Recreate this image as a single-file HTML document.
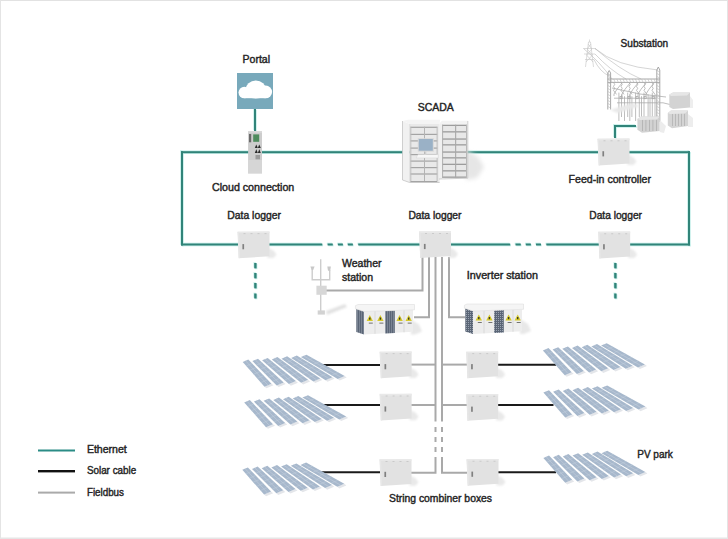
<!DOCTYPE html>
<html><head><meta charset="utf-8">
<style>html,body{margin:0;padding:0;background:#fff;}body{width:728px;height:539px;overflow:hidden;position:relative;}svg{position:absolute;left:0;top:0;display:block;}text{font-family:"Liberation Sans",sans-serif;font-size:10px;fill:#242424;stroke:#242424;stroke-width:0.4px;}</style></head><body>
<svg width="728" height="539" viewBox="0 0 728 539">
<defs><filter id="bl" x="-50%" y="-50%" width="200%" height="200%"><feGaussianBlur stdDeviation="1.3"/></filter><filter id="bl2" x="-50%" y="-50%" width="200%" height="200%"><feGaussianBlur stdDeviation="2.2"/></filter><pattern id="vent" width="2" height="2" patternUnits="userSpaceOnUse"><rect width="2" height="2" fill="#5a6576"/><rect x="0" y="0" width="1" height="1" fill="#9aa3b0"/></pattern></defs>
<rect x="0" y="0" width="728" height="1" fill="#e2e2e2"/><rect x="0" y="0" width="1" height="539" fill="#e4e4e4"/><rect x="727" y="0" width="1" height="539" fill="#e4e4e4"/><rect x="0" y="537.5" width="728" height="1.5" fill="#e6e6e6"/>
<g fill="#c8efea" transform="translate(0,0)"><g transform="translate(-0.8,-0.8)"><rect x="181.0" y="151.2" width="509.0" height="2.0"/><rect x="181.0" y="151.2" width="2.0" height="94.3"/><rect x="688.0" y="151.2" width="2.0" height="94.3"/><rect x="181.0" y="243.5" width="141.3" height="2.0"/><rect x="327.6" y="243.5" width="5.2" height="2.0"/><rect x="337.9" y="243.5" width="5.0" height="2.0"/><rect x="347.8" y="243.5" width="5.1" height="2.0"/><rect x="358.2" y="243.5" width="152.0" height="2.0"/><rect x="515.5" y="243.5" width="5.3" height="2.0"/><rect x="525.8" y="243.5" width="5.1" height="2.0"/><rect x="536.0" y="243.5" width="5.0" height="2.0"/><rect x="546.3" y="243.5" width="143.7" height="2.0"/><rect x="254.0" y="109.0" width="2.0" height="22.0"/><rect x="614.0" y="125.0" width="22.0" height="2.0"/><rect x="614.0" y="125.0" width="2.0" height="13.0"/><rect x="254.2" y="263.0" width="2.4" height="5.4"/><rect x="254.2" y="273.0" width="2.4" height="5.4"/><rect x="254.2" y="283.0" width="2.4" height="5.4"/><rect x="254.2" y="293.5" width="2.4" height="5.0"/><rect x="614.2" y="263.0" width="2.4" height="5.4"/><rect x="614.2" y="273.0" width="2.4" height="5.4"/><rect x="614.2" y="283.0" width="2.4" height="5.4"/><rect x="614.2" y="293.5" width="2.4" height="5.0"/></g><g transform="translate(0.8,0.8)"><rect x="181.0" y="151.2" width="509.0" height="2.0"/><rect x="181.0" y="151.2" width="2.0" height="94.3"/><rect x="688.0" y="151.2" width="2.0" height="94.3"/><rect x="181.0" y="243.5" width="141.3" height="2.0"/><rect x="327.6" y="243.5" width="5.2" height="2.0"/><rect x="337.9" y="243.5" width="5.0" height="2.0"/><rect x="347.8" y="243.5" width="5.1" height="2.0"/><rect x="358.2" y="243.5" width="152.0" height="2.0"/><rect x="515.5" y="243.5" width="5.3" height="2.0"/><rect x="525.8" y="243.5" width="5.1" height="2.0"/><rect x="536.0" y="243.5" width="5.0" height="2.0"/><rect x="546.3" y="243.5" width="143.7" height="2.0"/><rect x="254.0" y="109.0" width="2.0" height="22.0"/><rect x="614.0" y="125.0" width="22.0" height="2.0"/><rect x="614.0" y="125.0" width="2.0" height="13.0"/><rect x="254.2" y="263.0" width="2.4" height="5.4"/><rect x="254.2" y="273.0" width="2.4" height="5.4"/><rect x="254.2" y="283.0" width="2.4" height="5.4"/><rect x="254.2" y="293.5" width="2.4" height="5.0"/><rect x="614.2" y="263.0" width="2.4" height="5.4"/><rect x="614.2" y="273.0" width="2.4" height="5.4"/><rect x="614.2" y="283.0" width="2.4" height="5.4"/><rect x="614.2" y="293.5" width="2.4" height="5.0"/></g></g>
<g fill="#318479"><rect x="181.0" y="151.2" width="509.0" height="2.0"/><rect x="181.0" y="151.2" width="2.0" height="94.3"/><rect x="688.0" y="151.2" width="2.0" height="94.3"/><rect x="181.0" y="243.5" width="141.3" height="2.0"/><rect x="327.6" y="243.5" width="5.2" height="2.0"/><rect x="337.9" y="243.5" width="5.0" height="2.0"/><rect x="347.8" y="243.5" width="5.1" height="2.0"/><rect x="358.2" y="243.5" width="152.0" height="2.0"/><rect x="515.5" y="243.5" width="5.3" height="2.0"/><rect x="525.8" y="243.5" width="5.1" height="2.0"/><rect x="536.0" y="243.5" width="5.0" height="2.0"/><rect x="546.3" y="243.5" width="143.7" height="2.0"/><rect x="254.0" y="109.0" width="2.0" height="22.0"/><rect x="614.0" y="125.0" width="22.0" height="2.0"/><rect x="614.0" y="125.0" width="2.0" height="13.0"/><rect x="254.2" y="263.0" width="2.4" height="5.4"/><rect x="254.2" y="273.0" width="2.4" height="5.4"/><rect x="254.2" y="283.0" width="2.4" height="5.4"/><rect x="254.2" y="293.5" width="2.4" height="5.0"/><rect x="614.2" y="263.0" width="2.4" height="5.4"/><rect x="614.2" y="273.0" width="2.4" height="5.4"/><rect x="614.2" y="283.0" width="2.4" height="5.4"/><rect x="614.2" y="293.5" width="2.4" height="5.0"/></g>
<g fill="none" stroke="#a9a9a9" stroke-width="2">
<polyline points="422.5,257 422.5,290.5 326,290.5"/>
<polyline points="429,257 429,317.2 414,317.2"/>
<polyline points="449,257 449,317.2 465,317.2"/>
<line x1="435.5" y1="257" x2="435.5" y2="421.5"/>
<line x1="442" y1="257" x2="442" y2="421.5"/>
<line x1="435.5" y1="427" x2="435.5" y2="432"/><line x1="435.5" y1="437" x2="435.5" y2="442"/><line x1="435.5" y1="447" x2="435.5" y2="452"/>
<line x1="442" y1="427" x2="442" y2="432"/><line x1="442" y1="437" x2="442" y2="442"/><line x1="442" y1="447" x2="442" y2="452"/>
<polyline points="435.5,457 435.5,472.7 411,472.7"/>
<polyline points="442,457 442,472.7 467,472.7"/>
<line x1="411" y1="364.6" x2="435.5" y2="364.6"/><line x1="411" y1="405" x2="435.5" y2="405"/>
<line x1="442" y1="364.6" x2="467" y2="364.6"/><line x1="442" y1="405" x2="467" y2="405"/>
</g>
<g fill="none" stroke="#1a1a1a" stroke-width="2">
<line x1="322" y1="364.9" x2="380" y2="364.9"/>
<line x1="323" y1="404.9" x2="380" y2="404.9"/>
<line x1="320" y1="472.3" x2="380" y2="472.3"/>
<line x1="497" y1="364.8" x2="556" y2="364.8"/>
<line x1="497" y1="404.9" x2="553.5" y2="404.9"/>
<line x1="497" y1="472.3" x2="556" y2="472.3"/>
</g>
<rect x="38" y="449.5" width="37" height="2" fill="#2b8c86"/><rect x="38" y="470" width="37" height="2.4" fill="#111"/><rect x="38" y="491.6" width="37" height="2" fill="#aaaaaa"/>
<rect x="237" y="73" width="36" height="36" fill="#78a9bb"/>
<clipPath id="cc"><rect x="230" y="70" width="50" height="28.4"/></clipPath><g fill="#fff" clip-path="url(#cc)"><circle cx="244.3" cy="92.6" r="5.8"/><ellipse cx="255.8" cy="89.8" rx="10.3" ry="9.2"/><circle cx="265.6" cy="92" r="6.5"/><rect x="244.3" y="90" width="21.3" height="8.4"/></g>
<rect x="248.1" y="131.2" width="13.9" height="42.2" fill="#cdcdcd"/><rect x="248.1" y="131.2" width="13.9" height="1.5" fill="#dadada"/><rect x="248.1" y="160" width="13.9" height="13.4" fill="#d6d6d6"/>
<rect x="253.2" y="134.4" width="6" height="7.4" fill="#4f8c5e"/><rect x="249" y="134" width="2.2" height="8.3" fill="#6a6a6a"/>
<polygon points="254.8,147.9 256.3,144.6 257.8,147.9" fill="#2a2a2a"/><polygon points="257.8,147.9 259.3,144.6 260.8,147.9" fill="#2a2a2a"/><polygon points="254.8,153 256.3,149.3 257.8,153" fill="#2a2a2a"/><polygon points="257.8,153 259.3,149.3 260.8,153" fill="#2a2a2a"/><rect x="255.5" y="155" width="4.5" height="4.3" fill="#9a9a9a"/>
<polygon points="466,150 478,157 484,167 477,178 466,180" fill="#e6e6e6" filter="url(#bl2)"/><polygon points="402.5,121 409.7,124 409.7,182.5 402.5,180" fill="#f1f1f1"/><polygon points="402.5,121 408,119.8 440,119.8 439.6,124 409.7,124" fill="#f4f4f4"/><rect x="409.7" y="124" width="29.9" height="58.5" fill="#e9e9e9"/><rect x="410.3" y="126.7" width="27" height="1.2" fill="#a4a4a4"/><rect x="410.3" y="133.8" width="27" height="1.2" fill="#a4a4a4"/><rect x="410.3" y="140.3" width="27" height="1.2" fill="#a4a4a4"/><rect x="410.3" y="147.5" width="27" height="1.2" fill="#a4a4a4"/><rect x="410.3" y="154.0" width="27" height="1.2" fill="#a4a4a4"/><rect x="410.3" y="160.5" width="27" height="1.2" fill="#a4a4a4"/><rect x="410.3" y="167.0" width="27" height="1.2" fill="#a4a4a4"/><rect x="410.3" y="173.4" width="27" height="1.2" fill="#a4a4a4"/><rect x="410.3" y="181.0" width="27" height="1.2" fill="#a4a4a4"/><rect x="424" y="126.7" width="1" height="54.3" fill="#b4b4b4"/><rect x="410.3" y="126.7" width="1" height="54.3" fill="#bcbcbc"/><rect x="436.6" y="126.7" width="1" height="54.3" fill="#bcbcbc"/><polygon points="438.9,124 442,120.8 468,120.8 467.5,124.7" fill="#f3f3f3"/><rect x="438.9" y="124" width="3.2" height="55" fill="#f0f0f0"/><rect x="442.1" y="124.7" width="25.4" height="53.5" fill="#e8e8e8"/><rect x="442.1" y="124.7" width="24.7" height="1.3" fill="#9c9c9c"/><rect x="442.1" y="131.2" width="24.7" height="1.3" fill="#9c9c9c"/><rect x="442.1" y="138.4" width="24.7" height="1.3" fill="#9c9c9c"/><rect x="442.1" y="144.2" width="24.7" height="1.3" fill="#9c9c9c"/><rect x="442.1" y="151.4" width="24.7" height="1.3" fill="#9c9c9c"/><rect x="442.1" y="157.2" width="24.7" height="1.3" fill="#9c9c9c"/><rect x="442.1" y="163.7" width="24.7" height="1.3" fill="#9c9c9c"/><rect x="442.1" y="170.2" width="24.7" height="1.3" fill="#9c9c9c"/><rect x="442.1" y="176.5" width="24.7" height="1.3" fill="#9c9c9c"/><rect x="455.1" y="124.7" width="1.1" height="52.5" fill="#a8a8a8"/><rect x="442.1" y="124.7" width="1" height="52.5" fill="#b0b0b0"/><rect x="466" y="124.7" width="1" height="52.5" fill="#b8b8b8"/><rect x="417.8" y="138.2" width="16" height="13.5" fill="#d8d8d8"/><rect x="418.8" y="139" width="14" height="11.7" fill="#9ab1c6"/><rect x="424.8" y="151.5" width="1.5" height="3" fill="#d0d0d0"/><polygon points="418,154.4 438.3,154.4 438.3,157.9 416.2,157.9" fill="#f7f7f7" stroke="#d0d0d0" stroke-width="0.4"/><polyline points="402.5,121 402.5,180 409.7,182.5 439.6,182.5" fill="none" stroke="#c4c4c4" stroke-width="0.8"/><polyline points="438.9,179 467.8,178.2 467.8,121" fill="none" stroke="#c4c4c4" stroke-width="0.8"/><line x1="409.7" y1="124" x2="409.7" y2="182.5" stroke="#d4d4d4" stroke-width="0.6"/>
<g stroke="#c4c4c4" stroke-width="0.6" fill="none"><polyline points="585.5,67 588.5,42 590.5,42 593.5,67"/><polyline points="586,62 592.5,55 587,49 591,44"/><polyline points="593,62 586.5,55 592,49 588,44"/><line x1="583.5" y1="48.5" x2="595.5" y2="48.5"/><line x1="584" y1="54" x2="595" y2="54"/><line x1="585" y1="59.5" x2="594" y2="59.5"/><line x1="589.5" y1="39.5" x2="589.5" y2="42"/></g><g stroke="#b8b8b8" stroke-width="0.6" fill="none"><path d="M595,48.5 Q615,66 658,70"/><path d="M595,48.5 Q620,70 641,79"/><path d="M595,54 Q610,70 626,79"/><path d="M594,59.5 Q600,72 609.3,76"/><path d="M583.5,48.5 Q600,62 612,79"/></g><g stroke="#9e9e9e" stroke-width="0.9" fill="none"><line x1="607.8" y1="73" x2="607.8" y2="109.5"/><line x1="610.6" y1="73" x2="610.6" y2="109.5"/><line x1="656.8" y1="70" x2="656.8" y2="122"/><line x1="659.8" y1="70" x2="659.8" y2="122"/><line x1="607.8" y1="79" x2="659.8" y2="79"/><line x1="607.8" y1="82.4" x2="659.8" y2="82.4"/><polyline points="607.8,73 609.2,70.5 610.6,73"/><polyline points="656.8,70 658.3,67 659.8,70"/></g><g stroke="#b4b4b4" stroke-width="0.55" fill="none"><line x1="610.6" y1="79" x2="612.1" y2="82.4"/><line x1="613.7" y1="79" x2="615.2" y2="82.4"/><line x1="616.8" y1="79" x2="618.4" y2="82.4"/><line x1="619.9" y1="79" x2="621.4" y2="82.4"/><line x1="623.0" y1="79" x2="624.5" y2="82.4"/><line x1="626.1" y1="79" x2="627.6" y2="82.4"/><line x1="629.2" y1="79" x2="630.8" y2="82.4"/><line x1="632.3" y1="79" x2="633.9" y2="82.4"/><line x1="635.4" y1="79" x2="636.9" y2="82.4"/><line x1="638.5" y1="79" x2="640.0" y2="82.4"/><line x1="641.6" y1="79" x2="643.1" y2="82.4"/><line x1="644.7" y1="79" x2="646.2" y2="82.4"/><line x1="647.8" y1="79" x2="649.4" y2="82.4"/><line x1="650.9" y1="79" x2="652.4" y2="82.4"/><line x1="654.0" y1="79" x2="655.5" y2="82.4"/><line x1="607.8" y1="73.5" x2="610.6" y2="75.0"/><line x1="607.8" y1="76.5" x2="610.6" y2="78.0"/><line x1="607.8" y1="79.5" x2="610.6" y2="81.0"/><line x1="607.8" y1="82.5" x2="610.6" y2="84.0"/><line x1="607.8" y1="85.5" x2="610.6" y2="87.0"/><line x1="607.8" y1="88.5" x2="610.6" y2="90.0"/><line x1="607.8" y1="91.5" x2="610.6" y2="93.0"/><line x1="607.8" y1="94.5" x2="610.6" y2="96.0"/><line x1="607.8" y1="97.5" x2="610.6" y2="99.0"/><line x1="607.8" y1="100.5" x2="610.6" y2="102.0"/><line x1="607.8" y1="103.5" x2="610.6" y2="105.0"/><line x1="607.8" y1="106.5" x2="610.6" y2="108.0"/><line x1="656.8" y1="70.5" x2="659.8" y2="72.0"/><line x1="656.8" y1="73.5" x2="659.8" y2="75.0"/><line x1="656.8" y1="76.5" x2="659.8" y2="78.0"/><line x1="656.8" y1="79.5" x2="659.8" y2="81.0"/><line x1="656.8" y1="82.5" x2="659.8" y2="84.0"/><line x1="656.8" y1="85.5" x2="659.8" y2="87.0"/><line x1="656.8" y1="88.5" x2="659.8" y2="90.0"/><line x1="656.8" y1="91.5" x2="659.8" y2="93.0"/><line x1="656.8" y1="94.5" x2="659.8" y2="96.0"/><line x1="656.8" y1="97.5" x2="659.8" y2="99.0"/><line x1="656.8" y1="100.5" x2="659.8" y2="102.0"/><line x1="656.8" y1="103.5" x2="659.8" y2="105.0"/><line x1="656.8" y1="106.5" x2="659.8" y2="108.0"/><line x1="656.8" y1="109.5" x2="659.8" y2="111.0"/><line x1="656.8" y1="112.5" x2="659.8" y2="114.0"/><line x1="656.8" y1="115.5" x2="659.8" y2="117.0"/><line x1="656.8" y1="118.5" x2="659.8" y2="120.0"/></g><g stroke="#a8a8a8" stroke-width="0.75" fill="none"><path d="M622.0,83 Q616.0,90 614.0,94 L614.0,96"/><path d="M630.0,83 Q624.0,90 622.0,94 L622.0,96"/><path d="M638.0,83 Q632.0,90 630.0,94 L630.0,96"/><path d="M646.0,83 Q640.0,90 638.0,94 L638.0,96"/><path d="M654.0,83 Q648.0,90 646.0,94 L646.0,96"/><path d="M613.5,82.4 l1.2,2 l-1.2,2 l1.2,2 l-1.2,2 l3,4"/><path d="M621.0,82.4 l1.2,2 l-1.2,2 l1.2,2 l-1.2,2 l3,4"/><path d="M629.0,82.4 l1.2,2 l-1.2,2 l1.2,2 l-1.2,2 l3,4"/><path d="M636.5,82.4 l1.2,2 l-1.2,2 l1.2,2 l-1.2,2 l3,4"/><path d="M644.0,82.4 l1.2,2 l-1.2,2 l1.2,2 l-1.2,2 l3,4"/><path d="M652.0,82.4 l1.2,2 l-1.2,2 l1.2,2 l-1.2,2 l3,4"/><line x1="618.9" y1="92.6" x2="618.9" y2="121.0"/><line x1="621.5" y1="94.4" x2="621.5" y2="117.0"/><line x1="624.5" y1="96.2" x2="624.5" y2="121.0"/><line x1="627.7" y1="92.6" x2="627.7" y2="117.0"/><line x1="629.8" y1="94.4" x2="629.8" y2="121.0"/><line x1="631.9" y1="96.2" x2="631.9" y2="117.0"/><line x1="635.6" y1="92.6" x2="635.6" y2="121.0"/><line x1="639.3" y1="94.4" x2="639.3" y2="117.0"/><line x1="641.5" y1="96.2" x2="641.5" y2="121.0"/><line x1="644.0" y1="92.6" x2="644.0" y2="117.0"/><line x1="648.1" y1="94.4" x2="648.1" y2="121.0"/><line x1="650.0" y1="96.2" x2="650.0" y2="117.0"/><line x1="652.3" y1="92.6" x2="652.3" y2="121.0"/><line x1="655.0" y1="94.4" x2="655.0" y2="117.0"/><path d="M614,98.2 H656"/><path d="M617,102.8 H663 L672,105"/><path d="M612,88 L640,94 L666,97"/><rect x="620.0" y="96.5" width="2.2" height="2.2"/><rect x="628.0" y="96.5" width="2.2" height="2.2"/><rect x="636.0" y="96.5" width="2.2" height="2.2"/><rect x="644.0" y="96.5" width="2.2" height="2.2"/><rect x="652.0" y="96.5" width="2.2" height="2.2"/></g><polygon points="610,110 632,103 640,106 618,113" fill="#e8e8e8" filter="url(#bl)"/><polygon points="669.3,94.5 673,92.6 690,92.6 690,107.5 673,109 669.3,107" fill="#d3d3d3"/><polygon points="669.3,94.5 673,92.6 690,92.6 687,95.5 671,96" fill="#e6e6e6"/><polygon points="690,96 693,100 693,108 690,108" fill="#eeeeee"/><polygon points="667.8,113 671,110.4 688,110.4 688,126 672,128.2 667.8,125.5" fill="#d4d4d4"/><polygon points="688,114 693,118 693,127 688,127" fill="#ededed"/><polygon points="637.4,119 641,116.4 659.7,116.4 659.7,131 642,132.8 637.4,129.8" fill="#d2d2d2"/><polygon points="659.7,120 666,126 664,133 659.7,132" fill="#ececec"/><rect x="672.0" y="113.5" width="0.8" height="12.5" fill="#b2b2b2"/><rect x="675.0" y="113.5" width="0.8" height="12.5" fill="#b2b2b2"/><rect x="678.0" y="113.5" width="0.8" height="12.5" fill="#b2b2b2"/><rect x="681.0" y="113.5" width="0.8" height="12.5" fill="#b2b2b2"/><rect x="684.0" y="113.5" width="0.8" height="12.5" fill="#b2b2b2"/><rect x="642.0" y="119.5" width="0.8" height="11.5" fill="#b0b0b0"/><rect x="645.5" y="119.5" width="0.8" height="11.5" fill="#b0b0b0"/><rect x="649.0" y="119.5" width="0.8" height="11.5" fill="#b0b0b0"/><rect x="652.5" y="119.5" width="0.8" height="11.5" fill="#b0b0b0"/><rect x="656.0" y="119.5" width="0.8" height="11.5" fill="#b0b0b0"/><polygon points="637.4,119 641,116.4 659.7,116.4 657,119.5 640,120" fill="#e6e6e6"/><polygon points="667.8,113 671,110.4 688,110.4 685,113.5 670,114" fill="#e6e6e6"/>
<g transform="translate(237.5,231.5)">
<polygon points="30,16 36,19 39,23 36,26.5 30,26.5" fill="#e9e9e9" filter="url(#bl)"/>
<polygon points="0,0.4 32,0 32,24.8 1.2,26.8" fill="#e2e2e2"/>
<polygon points="0,0 32,0 32,1.6 0.2,1.6" fill="#e9e9e9"/>
<polygon points="0.3,1 1.6,1 2.6,26.6 1.2,26.8" fill="#e7e7e7"/>
<rect x="6" y="1.8" width="2" height="0.8" fill="#c4c4c4"/>
<rect x="13" y="1.8" width="2" height="0.8" fill="#c4c4c4"/>
<rect x="20" y="1.8" width="2" height="0.8" fill="#c4c4c4"/>
<rect x="27" y="1.8" width="2" height="0.8" fill="#c4c4c4"/>
<rect x="4.9" y="12.6" width="1.7" height="5.2" fill="#808080"/>
</g>
<g transform="translate(419.0,231.3)">
<polygon points="30,16 36,19 39,23 36,26.5 30,26.5" fill="#e9e9e9" filter="url(#bl)"/>
<polygon points="0,0.4 32,0 32,24.8 1.2,26.8" fill="#e2e2e2"/>
<polygon points="0,0 32,0 32,1.6 0.2,1.6" fill="#e9e9e9"/>
<polygon points="0.3,1 1.6,1 2.6,26.6 1.2,26.8" fill="#e7e7e7"/>
<rect x="6" y="1.8" width="2" height="0.8" fill="#c4c4c4"/>
<rect x="13" y="1.8" width="2" height="0.8" fill="#c4c4c4"/>
<rect x="20" y="1.8" width="2" height="0.8" fill="#c4c4c4"/>
<rect x="27" y="1.8" width="2" height="0.8" fill="#c4c4c4"/>
<rect x="4.9" y="12.6" width="1.7" height="5.2" fill="#808080"/>
</g>
<g transform="translate(598.2,231.6)">
<polygon points="30,16 36,19 39,23 36,26.5 30,26.5" fill="#e9e9e9" filter="url(#bl)"/>
<polygon points="0,0.4 32,0 32,24.8 1.2,26.8" fill="#e2e2e2"/>
<polygon points="0,0 32,0 32,1.6 0.2,1.6" fill="#e9e9e9"/>
<polygon points="0.3,1 1.6,1 2.6,26.6 1.2,26.8" fill="#e7e7e7"/>
<rect x="6" y="1.8" width="2" height="0.8" fill="#c4c4c4"/>
<rect x="13" y="1.8" width="2" height="0.8" fill="#c4c4c4"/>
<rect x="20" y="1.8" width="2" height="0.8" fill="#c4c4c4"/>
<rect x="27" y="1.8" width="2" height="0.8" fill="#c4c4c4"/>
<rect x="4.9" y="12.6" width="1.7" height="5.2" fill="#808080"/>
</g>
<g transform="translate(597.5,138.6)">
<polygon points="30,16 36,19 39,23 36,26.5 30,26.5" fill="#e9e9e9" filter="url(#bl)"/>
<polygon points="0,0.4 32,0 32,24.8 1.2,26.8" fill="#e2e2e2"/>
<polygon points="0,0 32,0 32,1.6 0.2,1.6" fill="#e9e9e9"/>
<polygon points="0.3,1 1.6,1 2.6,26.6 1.2,26.8" fill="#e7e7e7"/>
<rect x="6" y="1.8" width="2" height="0.8" fill="#c4c4c4"/>
<rect x="13" y="1.8" width="2" height="0.8" fill="#c4c4c4"/>
<rect x="20" y="1.8" width="2" height="0.8" fill="#c4c4c4"/>
<rect x="27" y="1.8" width="2" height="0.8" fill="#c4c4c4"/>
<rect x="4.9" y="12.6" width="1.7" height="5.2" fill="#808080"/>
</g>
<g transform="translate(379.6,351.5)">
<polygon points="30,16 36,19 39,23 36,26.5 30,26.5" fill="#e9e9e9" filter="url(#bl)"/>
<polygon points="0,0.4 32,0 32,24.8 1.2,26.8" fill="#e2e2e2"/>
<polygon points="0,0 32,0 32,1.6 0.2,1.6" fill="#e9e9e9"/>
<polygon points="0.3,1 1.6,1 2.6,26.6 1.2,26.8" fill="#e7e7e7"/>
<rect x="6" y="1.8" width="2" height="0.8" fill="#c4c4c4"/>
<rect x="13" y="1.8" width="2" height="0.8" fill="#c4c4c4"/>
<rect x="20" y="1.8" width="2" height="0.8" fill="#c4c4c4"/>
<rect x="27" y="1.8" width="2" height="0.8" fill="#c4c4c4"/>
<rect x="4.9" y="12.6" width="1.7" height="5.2" fill="#808080"/>
</g>
<g transform="translate(379.6,393.8)">
<polygon points="30,16 36,19 39,23 36,26.5 30,26.5" fill="#e9e9e9" filter="url(#bl)"/>
<polygon points="0,0.4 32,0 32,24.8 1.2,26.8" fill="#e2e2e2"/>
<polygon points="0,0 32,0 32,1.6 0.2,1.6" fill="#e9e9e9"/>
<polygon points="0.3,1 1.6,1 2.6,26.6 1.2,26.8" fill="#e7e7e7"/>
<rect x="6" y="1.8" width="2" height="0.8" fill="#c4c4c4"/>
<rect x="13" y="1.8" width="2" height="0.8" fill="#c4c4c4"/>
<rect x="20" y="1.8" width="2" height="0.8" fill="#c4c4c4"/>
<rect x="27" y="1.8" width="2" height="0.8" fill="#c4c4c4"/>
<rect x="4.9" y="12.6" width="1.7" height="5.2" fill="#808080"/>
</g>
<g transform="translate(379.5,459.2)">
<polygon points="30,16 36,19 39,23 36,26.5 30,26.5" fill="#e9e9e9" filter="url(#bl)"/>
<polygon points="0,0.4 32,0 32,24.8 1.2,26.8" fill="#e2e2e2"/>
<polygon points="0,0 32,0 32,1.6 0.2,1.6" fill="#e9e9e9"/>
<polygon points="0.3,1 1.6,1 2.6,26.6 1.2,26.8" fill="#e7e7e7"/>
<rect x="6" y="1.8" width="2" height="0.8" fill="#c4c4c4"/>
<rect x="13" y="1.8" width="2" height="0.8" fill="#c4c4c4"/>
<rect x="20" y="1.8" width="2" height="0.8" fill="#c4c4c4"/>
<rect x="27" y="1.8" width="2" height="0.8" fill="#c4c4c4"/>
<rect x="4.9" y="12.6" width="1.7" height="5.2" fill="#808080"/>
</g>
<g transform="translate(466.2,351.5)">
<polygon points="30,16 36,19 39,23 36,26.5 30,26.5" fill="#e9e9e9" filter="url(#bl)"/>
<polygon points="0,0.4 32,0 32,24.8 1.2,26.8" fill="#e2e2e2"/>
<polygon points="0,0 32,0 32,1.6 0.2,1.6" fill="#e9e9e9"/>
<polygon points="0.3,1 1.6,1 2.6,26.6 1.2,26.8" fill="#e7e7e7"/>
<rect x="6" y="1.8" width="2" height="0.8" fill="#c4c4c4"/>
<rect x="13" y="1.8" width="2" height="0.8" fill="#c4c4c4"/>
<rect x="20" y="1.8" width="2" height="0.8" fill="#c4c4c4"/>
<rect x="27" y="1.8" width="2" height="0.8" fill="#c4c4c4"/>
<rect x="4.9" y="12.6" width="1.7" height="5.2" fill="#808080"/>
</g>
<g transform="translate(466.2,394.0)">
<polygon points="30,16 36,19 39,23 36,26.5 30,26.5" fill="#e9e9e9" filter="url(#bl)"/>
<polygon points="0,0.4 32,0 32,24.8 1.2,26.8" fill="#e2e2e2"/>
<polygon points="0,0 32,0 32,1.6 0.2,1.6" fill="#e9e9e9"/>
<polygon points="0.3,1 1.6,1 2.6,26.6 1.2,26.8" fill="#e7e7e7"/>
<rect x="6" y="1.8" width="2" height="0.8" fill="#c4c4c4"/>
<rect x="13" y="1.8" width="2" height="0.8" fill="#c4c4c4"/>
<rect x="20" y="1.8" width="2" height="0.8" fill="#c4c4c4"/>
<rect x="27" y="1.8" width="2" height="0.8" fill="#c4c4c4"/>
<rect x="4.9" y="12.6" width="1.7" height="5.2" fill="#808080"/>
</g>
<g transform="translate(466.5,459.0)">
<polygon points="30,16 36,19 39,23 36,26.5 30,26.5" fill="#e9e9e9" filter="url(#bl)"/>
<polygon points="0,0.4 32,0 32,24.8 1.2,26.8" fill="#e2e2e2"/>
<polygon points="0,0 32,0 32,1.6 0.2,1.6" fill="#e9e9e9"/>
<polygon points="0.3,1 1.6,1 2.6,26.6 1.2,26.8" fill="#e7e7e7"/>
<rect x="6" y="1.8" width="2" height="0.8" fill="#c4c4c4"/>
<rect x="13" y="1.8" width="2" height="0.8" fill="#c4c4c4"/>
<rect x="20" y="1.8" width="2" height="0.8" fill="#c4c4c4"/>
<rect x="27" y="1.8" width="2" height="0.8" fill="#c4c4c4"/>
<rect x="4.9" y="12.6" width="1.7" height="5.2" fill="#808080"/>
</g>
<polygon points="326,311 345,304 347,307 327,315" fill="#e2e2e2" filter="url(#bl)"/>
<g stroke="#cdcdcd" stroke-width="1.4" fill="none"><line x1="320.7" y1="259.2" x2="320.7" y2="311.6"/><polyline points="312.2,269.5 312.2,279.7 329.7,279.7 329.7,270"/></g>
<polygon points="310.4,266.4 314.6,266.4 313.2,270 311.6,270" fill="#c8c8c8"/><polygon points="327.3,266.4 330.9,266.4 330.2,270.7 328,270.7" fill="#c8c8c8"/>
<rect x="316.4" y="285.7" width="10.3" height="9.1" fill="#d7d7d7"/><rect x="317.7" y="310.4" width="7.2" height="4.2" fill="#d2d2d2"/>
<g transform="translate(355.0,304.5)">
<polygon points="56,15 64,20 67,27 60,30 56,30" fill="#e8e8e8" filter="url(#bl)"/>
<polygon points="1.3,4.2 9,7 9,30 1.3,27.5" fill="url(#vent)"/>
<polygon points="9,7 58,5.5 58,27.3 9,30" fill="#ededed"/>
<polygon points="30.2,6.4 39.8,6.1 39.8,28.4 30.2,29" fill="url(#vent)"/>
<line x1="20" y1="6.7" x2="20" y2="29.3" stroke="#cdcdcd" stroke-width="0.6"/>
<line x1="49" y1="5.9" x2="49" y2="27.8" stroke="#cdcdcd" stroke-width="0.6"/>
<polygon points="0.4,1.2 3,0 59.5,0 59.5,5.3 9,7 0.4,4.2" fill="#f5f5f5" stroke="#d8d8d8" stroke-width="0.5"/>
<polygon points="14.8,10.5 18.0,16.4 11.6,16.4" fill="#d6c92a"/>
<rect x="14.1" y="13" width="1.4" height="2.2" fill="#3a3a2a"/>
<rect x="13.8" y="18.2" width="4" height="0.8" fill="#555"/>
<polygon points="25.4,10.5 28.6,16.4 22.2,16.4" fill="#d6c92a"/>
<rect x="24.7" y="13" width="1.4" height="2.2" fill="#3a3a2a"/>
<rect x="24.4" y="18.2" width="4" height="0.8" fill="#555"/>
<polygon points="44.6,10.5 47.8,16.4 41.4,16.4" fill="#d6c92a"/>
<rect x="43.9" y="13" width="1.4" height="2.2" fill="#3a3a2a"/>
<rect x="43.6" y="18.2" width="4" height="0.8" fill="#555"/>
<polygon points="53.7,10.5 56.9,16.4 50.5,16.4" fill="#d6c92a"/>
<rect x="53.0" y="13" width="1.4" height="2.2" fill="#3a3a2a"/>
<rect x="52.7" y="18.2" width="4" height="0.8" fill="#555"/>
</g>
<g transform="translate(464.0,304.0)">
<polygon points="56,15 64,20 67,27 60,30 56,30" fill="#e8e8e8" filter="url(#bl)"/>
<polygon points="1.3,4.2 9,7 9,30 1.3,27.5" fill="url(#vent)"/>
<polygon points="9,7 58,5.5 58,27.3 9,30" fill="#ededed"/>
<polygon points="30.2,6.4 39.8,6.1 39.8,28.4 30.2,29" fill="url(#vent)"/>
<line x1="20" y1="6.7" x2="20" y2="29.3" stroke="#cdcdcd" stroke-width="0.6"/>
<line x1="49" y1="5.9" x2="49" y2="27.8" stroke="#cdcdcd" stroke-width="0.6"/>
<polygon points="0.4,1.2 3,0 59.5,0 59.5,5.3 9,7 0.4,4.2" fill="#f5f5f5" stroke="#d8d8d8" stroke-width="0.5"/>
<polygon points="14.8,10.5 18.0,16.4 11.6,16.4" fill="#d6c92a"/>
<rect x="14.1" y="13" width="1.4" height="2.2" fill="#3a3a2a"/>
<rect x="13.8" y="18.2" width="4" height="0.8" fill="#555"/>
<polygon points="25.4,10.5 28.6,16.4 22.2,16.4" fill="#d6c92a"/>
<rect x="24.7" y="13" width="1.4" height="2.2" fill="#3a3a2a"/>
<rect x="24.4" y="18.2" width="4" height="0.8" fill="#555"/>
<polygon points="44.6,10.5 47.8,16.4 41.4,16.4" fill="#d6c92a"/>
<rect x="43.9" y="13" width="1.4" height="2.2" fill="#3a3a2a"/>
<rect x="43.6" y="18.2" width="4" height="0.8" fill="#555"/>
<polygon points="53.7,10.5 56.9,16.4 50.5,16.4" fill="#d6c92a"/>
<rect x="53.0" y="13" width="1.4" height="2.2" fill="#3a3a2a"/>
<rect x="52.7" y="18.2" width="4" height="0.8" fill="#555"/>
</g>
<polygon points="264.5,386.7 271.5,383.7 273.5,385.3 266.5,388.3" fill="#e4e6ea"/>
<polygon points="242.7,361.9 248.3,359.5 271.5,383.7 264.5,386.7" fill="#a7b8cc"/>
<line x1="245.5" y1="360.7" x2="268.0" y2="385.2" stroke="#c2cddb" stroke-width="0.6"/>
<line x1="246.3" y1="366.0" x2="252.2" y2="363.5" stroke="#c0cedd" stroke-width="0.5"/>
<line x1="250.0" y1="370.2" x2="256.0" y2="367.6" stroke="#c0cedd" stroke-width="0.5"/>
<line x1="253.6" y1="374.3" x2="259.9" y2="371.6" stroke="#c0cedd" stroke-width="0.5"/>
<line x1="257.2" y1="378.4" x2="263.8" y2="375.6" stroke="#c0cedd" stroke-width="0.5"/>
<line x1="260.9" y1="382.6" x2="267.6" y2="379.7" stroke="#c0cedd" stroke-width="0.5"/>
<polygon points="276.7,385.4 283.7,382.4 285.7,384.0 278.7,387.0" fill="#e4e6ea"/>
<polygon points="252.4,361.1 258.0,358.7 283.7,382.4 276.7,385.4" fill="#a7b8cc"/>
<line x1="255.2" y1="359.9" x2="280.2" y2="383.9" stroke="#c2cddb" stroke-width="0.6"/>
<line x1="256.4" y1="365.1" x2="262.3" y2="362.6" stroke="#c0cedd" stroke-width="0.5"/>
<line x1="260.5" y1="369.2" x2="266.6" y2="366.6" stroke="#c0cedd" stroke-width="0.5"/>
<line x1="264.5" y1="373.2" x2="270.8" y2="370.5" stroke="#c0cedd" stroke-width="0.5"/>
<line x1="268.6" y1="377.3" x2="275.1" y2="374.5" stroke="#c0cedd" stroke-width="0.5"/>
<line x1="272.6" y1="381.3" x2="279.4" y2="378.4" stroke="#c0cedd" stroke-width="0.5"/>
<polygon points="288.9,384.1 295.9,381.1 297.9,382.7 290.9,385.7" fill="#e4e6ea"/>
<polygon points="262.1,360.3 267.7,357.9 295.9,381.1 288.9,384.1" fill="#a7b8cc"/>
<line x1="264.9" y1="359.1" x2="292.4" y2="382.6" stroke="#c2cddb" stroke-width="0.6"/>
<line x1="266.6" y1="364.3" x2="272.4" y2="361.8" stroke="#c0cedd" stroke-width="0.5"/>
<line x1="271.0" y1="368.2" x2="277.1" y2="365.6" stroke="#c0cedd" stroke-width="0.5"/>
<line x1="275.5" y1="372.2" x2="281.8" y2="369.5" stroke="#c0cedd" stroke-width="0.5"/>
<line x1="280.0" y1="376.2" x2="286.5" y2="373.4" stroke="#c0cedd" stroke-width="0.5"/>
<line x1="284.4" y1="380.1" x2="291.2" y2="377.2" stroke="#c0cedd" stroke-width="0.5"/>
<polygon points="301.1,382.8 308.1,379.8 310.1,381.4 303.1,384.4" fill="#e4e6ea"/>
<polygon points="271.8,359.5 277.4,357.1 308.1,379.8 301.1,382.8" fill="#a7b8cc"/>
<line x1="274.6" y1="358.3" x2="304.6" y2="381.3" stroke="#c2cddb" stroke-width="0.6"/>
<line x1="276.7" y1="363.4" x2="282.5" y2="360.9" stroke="#c0cedd" stroke-width="0.5"/>
<line x1="281.6" y1="367.3" x2="287.6" y2="364.7" stroke="#c0cedd" stroke-width="0.5"/>
<line x1="286.4" y1="371.1" x2="292.8" y2="368.4" stroke="#c0cedd" stroke-width="0.5"/>
<line x1="291.3" y1="375.0" x2="297.9" y2="372.2" stroke="#c0cedd" stroke-width="0.5"/>
<line x1="296.2" y1="378.9" x2="303.0" y2="376.0" stroke="#c0cedd" stroke-width="0.5"/>
<polygon points="313.3,381.5 320.3,378.5 322.3,380.1 315.3,383.1" fill="#e4e6ea"/>
<polygon points="281.5,358.7 287.1,356.3 320.3,378.5 313.3,381.5" fill="#a7b8cc"/>
<line x1="284.3" y1="357.5" x2="316.8" y2="380.0" stroke="#c2cddb" stroke-width="0.6"/>
<line x1="286.8" y1="362.5" x2="292.6" y2="360.0" stroke="#c0cedd" stroke-width="0.5"/>
<line x1="292.1" y1="366.3" x2="298.2" y2="363.7" stroke="#c0cedd" stroke-width="0.5"/>
<line x1="297.4" y1="370.1" x2="303.7" y2="367.4" stroke="#c0cedd" stroke-width="0.5"/>
<line x1="302.7" y1="373.9" x2="309.2" y2="371.1" stroke="#c0cedd" stroke-width="0.5"/>
<line x1="308.0" y1="377.7" x2="314.8" y2="374.8" stroke="#c0cedd" stroke-width="0.5"/>
<polygon points="325.5,380.2 332.5,377.2 334.5,378.8 327.5,381.8" fill="#e4e6ea"/>
<polygon points="291.2,357.9 296.8,355.5 332.5,377.2 325.5,380.2" fill="#a7b8cc"/>
<line x1="294.0" y1="356.7" x2="329.0" y2="378.7" stroke="#c2cddb" stroke-width="0.6"/>
<line x1="296.9" y1="361.6" x2="302.7" y2="359.1" stroke="#c0cedd" stroke-width="0.5"/>
<line x1="302.6" y1="365.3" x2="308.7" y2="362.7" stroke="#c0cedd" stroke-width="0.5"/>
<line x1="308.3" y1="369.0" x2="314.6" y2="366.3" stroke="#c0cedd" stroke-width="0.5"/>
<line x1="314.1" y1="372.8" x2="320.6" y2="370.0" stroke="#c0cedd" stroke-width="0.5"/>
<line x1="319.8" y1="376.5" x2="326.5" y2="373.6" stroke="#c0cedd" stroke-width="0.5"/>
<polygon points="337.7,378.9 344.7,375.9 346.7,377.5 339.7,380.5" fill="#e4e6ea"/>
<polygon points="300.9,357.1 306.5,354.7 344.7,375.9 337.7,378.9" fill="#a7b8cc"/>
<line x1="303.7" y1="355.9" x2="341.2" y2="377.4" stroke="#c2cddb" stroke-width="0.6"/>
<line x1="307.0" y1="360.7" x2="312.9" y2="358.2" stroke="#c0cedd" stroke-width="0.5"/>
<line x1="313.2" y1="364.4" x2="319.2" y2="361.8" stroke="#c0cedd" stroke-width="0.5"/>
<line x1="319.3" y1="368.0" x2="325.6" y2="365.3" stroke="#c0cedd" stroke-width="0.5"/>
<line x1="325.4" y1="371.6" x2="332.0" y2="368.8" stroke="#c0cedd" stroke-width="0.5"/>
<line x1="331.6" y1="375.3" x2="338.3" y2="372.4" stroke="#c0cedd" stroke-width="0.5"/>
<polygon points="266.0,427.2 273.0,424.2 275.0,425.8 268.0,428.8" fill="#e4e6ea"/>
<polygon points="244.2,402.4 249.8,400.0 273.0,424.2 266.0,427.2" fill="#a7b8cc"/>
<line x1="247.0" y1="401.2" x2="269.5" y2="425.7" stroke="#c2cddb" stroke-width="0.6"/>
<line x1="247.8" y1="406.5" x2="253.7" y2="404.0" stroke="#c0cedd" stroke-width="0.5"/>
<line x1="251.5" y1="410.7" x2="257.5" y2="408.1" stroke="#c0cedd" stroke-width="0.5"/>
<line x1="255.1" y1="414.8" x2="261.4" y2="412.1" stroke="#c0cedd" stroke-width="0.5"/>
<line x1="258.7" y1="418.9" x2="265.3" y2="416.1" stroke="#c0cedd" stroke-width="0.5"/>
<line x1="262.4" y1="423.1" x2="269.1" y2="420.2" stroke="#c0cedd" stroke-width="0.5"/>
<polygon points="278.2,425.9 285.2,422.9 287.2,424.5 280.2,427.5" fill="#e4e6ea"/>
<polygon points="253.9,401.6 259.5,399.2 285.2,422.9 278.2,425.9" fill="#a7b8cc"/>
<line x1="256.7" y1="400.4" x2="281.7" y2="424.4" stroke="#c2cddb" stroke-width="0.6"/>
<line x1="257.9" y1="405.6" x2="263.8" y2="403.1" stroke="#c0cedd" stroke-width="0.5"/>
<line x1="262.0" y1="409.7" x2="268.1" y2="407.1" stroke="#c0cedd" stroke-width="0.5"/>
<line x1="266.0" y1="413.7" x2="272.3" y2="411.0" stroke="#c0cedd" stroke-width="0.5"/>
<line x1="270.1" y1="417.8" x2="276.6" y2="415.0" stroke="#c0cedd" stroke-width="0.5"/>
<line x1="274.1" y1="421.8" x2="280.9" y2="418.9" stroke="#c0cedd" stroke-width="0.5"/>
<polygon points="290.4,424.6 297.4,421.6 299.4,423.2 292.4,426.2" fill="#e4e6ea"/>
<polygon points="263.6,400.8 269.2,398.4 297.4,421.6 290.4,424.6" fill="#a7b8cc"/>
<line x1="266.4" y1="399.6" x2="293.9" y2="423.1" stroke="#c2cddb" stroke-width="0.6"/>
<line x1="268.1" y1="404.8" x2="273.9" y2="402.3" stroke="#c0cedd" stroke-width="0.5"/>
<line x1="272.5" y1="408.7" x2="278.6" y2="406.1" stroke="#c0cedd" stroke-width="0.5"/>
<line x1="277.0" y1="412.7" x2="283.3" y2="410.0" stroke="#c0cedd" stroke-width="0.5"/>
<line x1="281.5" y1="416.7" x2="288.0" y2="413.9" stroke="#c0cedd" stroke-width="0.5"/>
<line x1="285.9" y1="420.6" x2="292.7" y2="417.7" stroke="#c0cedd" stroke-width="0.5"/>
<polygon points="302.6,423.3 309.6,420.3 311.6,421.9 304.6,424.9" fill="#e4e6ea"/>
<polygon points="273.3,400.0 278.9,397.6 309.6,420.3 302.6,423.3" fill="#a7b8cc"/>
<line x1="276.1" y1="398.8" x2="306.1" y2="421.8" stroke="#c2cddb" stroke-width="0.6"/>
<line x1="278.2" y1="403.9" x2="284.0" y2="401.4" stroke="#c0cedd" stroke-width="0.5"/>
<line x1="283.1" y1="407.8" x2="289.1" y2="405.2" stroke="#c0cedd" stroke-width="0.5"/>
<line x1="287.9" y1="411.6" x2="294.2" y2="408.9" stroke="#c0cedd" stroke-width="0.5"/>
<line x1="292.8" y1="415.5" x2="299.4" y2="412.7" stroke="#c0cedd" stroke-width="0.5"/>
<line x1="297.7" y1="419.4" x2="304.5" y2="416.5" stroke="#c0cedd" stroke-width="0.5"/>
<polygon points="314.8,422.0 321.8,419.0 323.8,420.6 316.8,423.6" fill="#e4e6ea"/>
<polygon points="283.0,399.2 288.6,396.8 321.8,419.0 314.8,422.0" fill="#a7b8cc"/>
<line x1="285.8" y1="398.0" x2="318.3" y2="420.5" stroke="#c2cddb" stroke-width="0.6"/>
<line x1="288.3" y1="403.0" x2="294.1" y2="400.5" stroke="#c0cedd" stroke-width="0.5"/>
<line x1="293.6" y1="406.8" x2="299.7" y2="404.2" stroke="#c0cedd" stroke-width="0.5"/>
<line x1="298.9" y1="410.6" x2="305.2" y2="407.9" stroke="#c0cedd" stroke-width="0.5"/>
<line x1="304.2" y1="414.4" x2="310.7" y2="411.6" stroke="#c0cedd" stroke-width="0.5"/>
<line x1="309.5" y1="418.2" x2="316.3" y2="415.3" stroke="#c0cedd" stroke-width="0.5"/>
<polygon points="327.0,420.7 334.0,417.7 336.0,419.3 329.0,422.3" fill="#e4e6ea"/>
<polygon points="292.7,398.4 298.3,396.0 334.0,417.7 327.0,420.7" fill="#a7b8cc"/>
<line x1="295.5" y1="397.2" x2="330.5" y2="419.2" stroke="#c2cddb" stroke-width="0.6"/>
<line x1="298.4" y1="402.1" x2="304.2" y2="399.6" stroke="#c0cedd" stroke-width="0.5"/>
<line x1="304.1" y1="405.8" x2="310.2" y2="403.2" stroke="#c0cedd" stroke-width="0.5"/>
<line x1="309.8" y1="409.5" x2="316.1" y2="406.8" stroke="#c0cedd" stroke-width="0.5"/>
<line x1="315.6" y1="413.3" x2="322.1" y2="410.5" stroke="#c0cedd" stroke-width="0.5"/>
<line x1="321.3" y1="417.0" x2="328.0" y2="414.1" stroke="#c0cedd" stroke-width="0.5"/>
<polygon points="339.2,419.4 346.2,416.4 348.2,418.0 341.2,421.0" fill="#e4e6ea"/>
<polygon points="302.4,397.6 308.0,395.2 346.2,416.4 339.2,419.4" fill="#a7b8cc"/>
<line x1="305.2" y1="396.4" x2="342.7" y2="417.9" stroke="#c2cddb" stroke-width="0.6"/>
<line x1="308.5" y1="401.2" x2="314.4" y2="398.7" stroke="#c0cedd" stroke-width="0.5"/>
<line x1="314.7" y1="404.9" x2="320.7" y2="402.3" stroke="#c0cedd" stroke-width="0.5"/>
<line x1="320.8" y1="408.5" x2="327.1" y2="405.8" stroke="#c0cedd" stroke-width="0.5"/>
<line x1="326.9" y1="412.1" x2="333.5" y2="409.3" stroke="#c0cedd" stroke-width="0.5"/>
<line x1="333.1" y1="415.8" x2="339.8" y2="412.9" stroke="#c0cedd" stroke-width="0.5"/>
<polygon points="264.1,494.6 271.1,491.6 273.1,493.2 266.1,496.2" fill="#e4e6ea"/>
<polygon points="242.3,469.8 247.9,467.4 271.1,491.6 264.1,494.6" fill="#a7b8cc"/>
<line x1="245.1" y1="468.6" x2="267.6" y2="493.1" stroke="#c2cddb" stroke-width="0.6"/>
<line x1="245.9" y1="473.9" x2="251.8" y2="471.4" stroke="#c0cedd" stroke-width="0.5"/>
<line x1="249.6" y1="478.1" x2="255.6" y2="475.5" stroke="#c0cedd" stroke-width="0.5"/>
<line x1="253.2" y1="482.2" x2="259.5" y2="479.5" stroke="#c0cedd" stroke-width="0.5"/>
<line x1="256.8" y1="486.3" x2="263.4" y2="483.5" stroke="#c0cedd" stroke-width="0.5"/>
<line x1="260.5" y1="490.5" x2="267.2" y2="487.6" stroke="#c0cedd" stroke-width="0.5"/>
<polygon points="276.3,493.3 283.3,490.3 285.3,491.9 278.3,494.9" fill="#e4e6ea"/>
<polygon points="252.0,469.0 257.6,466.6 283.3,490.3 276.3,493.3" fill="#a7b8cc"/>
<line x1="254.8" y1="467.8" x2="279.8" y2="491.8" stroke="#c2cddb" stroke-width="0.6"/>
<line x1="256.1" y1="473.1" x2="261.9" y2="470.6" stroke="#c0cedd" stroke-width="0.5"/>
<line x1="260.1" y1="477.1" x2="266.2" y2="474.5" stroke="#c0cedd" stroke-width="0.5"/>
<line x1="264.1" y1="481.1" x2="270.4" y2="478.4" stroke="#c0cedd" stroke-width="0.5"/>
<line x1="268.2" y1="485.2" x2="274.7" y2="482.4" stroke="#c0cedd" stroke-width="0.5"/>
<line x1="272.2" y1="489.2" x2="279.0" y2="486.4" stroke="#c0cedd" stroke-width="0.5"/>
<polygon points="288.5,492.0 295.5,489.0 297.5,490.6 290.5,493.6" fill="#e4e6ea"/>
<polygon points="261.7,468.2 267.3,465.8 295.5,489.0 288.5,492.0" fill="#a7b8cc"/>
<line x1="264.5" y1="467.0" x2="292.0" y2="490.5" stroke="#c2cddb" stroke-width="0.6"/>
<line x1="266.2" y1="472.2" x2="272.0" y2="469.7" stroke="#c0cedd" stroke-width="0.5"/>
<line x1="270.6" y1="476.1" x2="276.7" y2="473.5" stroke="#c0cedd" stroke-width="0.5"/>
<line x1="275.1" y1="480.1" x2="281.4" y2="477.4" stroke="#c0cedd" stroke-width="0.5"/>
<line x1="279.6" y1="484.1" x2="286.1" y2="481.3" stroke="#c0cedd" stroke-width="0.5"/>
<line x1="284.0" y1="488.0" x2="290.8" y2="485.1" stroke="#c0cedd" stroke-width="0.5"/>
<polygon points="300.7,490.7 307.7,487.7 309.7,489.3 302.7,492.3" fill="#e4e6ea"/>
<polygon points="271.4,467.4 277.0,465.0 307.7,487.7 300.7,490.7" fill="#a7b8cc"/>
<line x1="274.2" y1="466.2" x2="304.2" y2="489.2" stroke="#c2cddb" stroke-width="0.6"/>
<line x1="276.3" y1="471.3" x2="282.1" y2="468.8" stroke="#c0cedd" stroke-width="0.5"/>
<line x1="281.2" y1="475.2" x2="287.2" y2="472.6" stroke="#c0cedd" stroke-width="0.5"/>
<line x1="286.1" y1="479.1" x2="292.4" y2="476.4" stroke="#c0cedd" stroke-width="0.5"/>
<line x1="290.9" y1="482.9" x2="297.5" y2="480.1" stroke="#c0cedd" stroke-width="0.5"/>
<line x1="295.8" y1="486.8" x2="302.6" y2="483.9" stroke="#c0cedd" stroke-width="0.5"/>
<polygon points="312.9,489.4 319.9,486.4 321.9,488.0 314.9,491.0" fill="#e4e6ea"/>
<polygon points="281.1,466.6 286.7,464.2 319.9,486.4 312.9,489.4" fill="#a7b8cc"/>
<line x1="283.9" y1="465.4" x2="316.4" y2="487.9" stroke="#c2cddb" stroke-width="0.6"/>
<line x1="286.4" y1="470.4" x2="292.2" y2="467.9" stroke="#c0cedd" stroke-width="0.5"/>
<line x1="291.7" y1="474.2" x2="297.8" y2="471.6" stroke="#c0cedd" stroke-width="0.5"/>
<line x1="297.0" y1="478.0" x2="303.3" y2="475.3" stroke="#c0cedd" stroke-width="0.5"/>
<line x1="302.3" y1="481.8" x2="308.8" y2="479.0" stroke="#c0cedd" stroke-width="0.5"/>
<line x1="307.6" y1="485.6" x2="314.4" y2="482.7" stroke="#c0cedd" stroke-width="0.5"/>
<polygon points="325.1,488.1 332.1,485.1 334.1,486.7 327.1,489.7" fill="#e4e6ea"/>
<polygon points="290.8,465.8 296.4,463.4 332.1,485.1 325.1,488.1" fill="#a7b8cc"/>
<line x1="293.6" y1="464.6" x2="328.6" y2="486.6" stroke="#c2cddb" stroke-width="0.6"/>
<line x1="296.5" y1="469.5" x2="302.3" y2="467.0" stroke="#c0cedd" stroke-width="0.5"/>
<line x1="302.2" y1="473.2" x2="308.3" y2="470.6" stroke="#c0cedd" stroke-width="0.5"/>
<line x1="307.9" y1="476.9" x2="314.2" y2="474.2" stroke="#c0cedd" stroke-width="0.5"/>
<line x1="313.7" y1="480.7" x2="320.2" y2="477.9" stroke="#c0cedd" stroke-width="0.5"/>
<line x1="319.4" y1="484.4" x2="326.1" y2="481.5" stroke="#c0cedd" stroke-width="0.5"/>
<polygon points="337.3,486.8 344.3,483.8 346.3,485.4 339.3,488.4" fill="#e4e6ea"/>
<polygon points="300.5,465.0 306.1,462.6 344.3,483.8 337.3,486.8" fill="#a7b8cc"/>
<line x1="303.3" y1="463.8" x2="340.8" y2="485.3" stroke="#c2cddb" stroke-width="0.6"/>
<line x1="306.6" y1="468.6" x2="312.5" y2="466.1" stroke="#c0cedd" stroke-width="0.5"/>
<line x1="312.8" y1="472.3" x2="318.8" y2="469.7" stroke="#c0cedd" stroke-width="0.5"/>
<line x1="318.9" y1="475.9" x2="325.2" y2="473.2" stroke="#c0cedd" stroke-width="0.5"/>
<line x1="325.0" y1="479.5" x2="331.6" y2="476.7" stroke="#c0cedd" stroke-width="0.5"/>
<line x1="331.2" y1="483.2" x2="337.9" y2="480.3" stroke="#c0cedd" stroke-width="0.5"/>
<polygon points="564.7,375.2 571.7,372.2 573.7,373.8 566.7,376.8" fill="#e4e6ea"/>
<polygon points="542.9,350.4 548.5,348.0 571.7,372.2 564.7,375.2" fill="#a7b8cc"/>
<line x1="545.7" y1="349.2" x2="568.2" y2="373.7" stroke="#c2cddb" stroke-width="0.6"/>
<line x1="546.5" y1="354.5" x2="552.4" y2="352.0" stroke="#c0cedd" stroke-width="0.5"/>
<line x1="550.2" y1="358.7" x2="556.2" y2="356.1" stroke="#c0cedd" stroke-width="0.5"/>
<line x1="553.8" y1="362.8" x2="560.1" y2="360.1" stroke="#c0cedd" stroke-width="0.5"/>
<line x1="557.4" y1="366.9" x2="564.0" y2="364.1" stroke="#c0cedd" stroke-width="0.5"/>
<line x1="561.1" y1="371.1" x2="567.8" y2="368.2" stroke="#c0cedd" stroke-width="0.5"/>
<polygon points="576.9,373.9 583.9,370.9 585.9,372.5 578.9,375.5" fill="#e4e6ea"/>
<polygon points="552.6,349.6 558.2,347.2 583.9,370.9 576.9,373.9" fill="#a7b8cc"/>
<line x1="555.4" y1="348.4" x2="580.4" y2="372.4" stroke="#c2cddb" stroke-width="0.6"/>
<line x1="556.6" y1="353.6" x2="562.5" y2="351.1" stroke="#c0cedd" stroke-width="0.5"/>
<line x1="560.7" y1="357.7" x2="566.8" y2="355.1" stroke="#c0cedd" stroke-width="0.5"/>
<line x1="564.8" y1="361.7" x2="571.0" y2="359.0" stroke="#c0cedd" stroke-width="0.5"/>
<line x1="568.8" y1="365.8" x2="575.3" y2="363.0" stroke="#c0cedd" stroke-width="0.5"/>
<line x1="572.9" y1="369.8" x2="579.6" y2="366.9" stroke="#c0cedd" stroke-width="0.5"/>
<polygon points="589.1,372.6 596.1,369.6 598.1,371.2 591.1,374.2" fill="#e4e6ea"/>
<polygon points="562.3,348.8 567.9,346.4 596.1,369.6 589.1,372.6" fill="#a7b8cc"/>
<line x1="565.1" y1="347.6" x2="592.6" y2="371.1" stroke="#c2cddb" stroke-width="0.6"/>
<line x1="566.8" y1="352.8" x2="572.6" y2="350.3" stroke="#c0cedd" stroke-width="0.5"/>
<line x1="571.2" y1="356.7" x2="577.3" y2="354.1" stroke="#c0cedd" stroke-width="0.5"/>
<line x1="575.7" y1="360.7" x2="582.0" y2="358.0" stroke="#c0cedd" stroke-width="0.5"/>
<line x1="580.2" y1="364.7" x2="586.7" y2="361.9" stroke="#c0cedd" stroke-width="0.5"/>
<line x1="584.6" y1="368.6" x2="591.4" y2="365.7" stroke="#c0cedd" stroke-width="0.5"/>
<polygon points="601.3,371.3 608.3,368.3 610.3,369.9 603.3,372.9" fill="#e4e6ea"/>
<polygon points="572.0,348.0 577.6,345.6 608.3,368.3 601.3,371.3" fill="#a7b8cc"/>
<line x1="574.8" y1="346.8" x2="604.8" y2="369.8" stroke="#c2cddb" stroke-width="0.6"/>
<line x1="576.9" y1="351.9" x2="582.7" y2="349.4" stroke="#c0cedd" stroke-width="0.5"/>
<line x1="581.8" y1="355.8" x2="587.8" y2="353.2" stroke="#c0cedd" stroke-width="0.5"/>
<line x1="586.6" y1="359.6" x2="592.9" y2="356.9" stroke="#c0cedd" stroke-width="0.5"/>
<line x1="591.5" y1="363.5" x2="598.1" y2="360.7" stroke="#c0cedd" stroke-width="0.5"/>
<line x1="596.4" y1="367.4" x2="603.2" y2="364.5" stroke="#c0cedd" stroke-width="0.5"/>
<polygon points="613.5,370.0 620.5,367.0 622.5,368.6 615.5,371.6" fill="#e4e6ea"/>
<polygon points="581.7,347.2 587.3,344.8 620.5,367.0 613.5,370.0" fill="#a7b8cc"/>
<line x1="584.5" y1="346.0" x2="617.0" y2="368.5" stroke="#c2cddb" stroke-width="0.6"/>
<line x1="587.0" y1="351.0" x2="592.8" y2="348.5" stroke="#c0cedd" stroke-width="0.5"/>
<line x1="592.3" y1="354.8" x2="598.4" y2="352.2" stroke="#c0cedd" stroke-width="0.5"/>
<line x1="597.6" y1="358.6" x2="603.9" y2="355.9" stroke="#c0cedd" stroke-width="0.5"/>
<line x1="602.9" y1="362.4" x2="609.4" y2="359.6" stroke="#c0cedd" stroke-width="0.5"/>
<line x1="608.2" y1="366.2" x2="615.0" y2="363.3" stroke="#c0cedd" stroke-width="0.5"/>
<polygon points="625.7,368.7 632.7,365.7 634.7,367.3 627.7,370.3" fill="#e4e6ea"/>
<polygon points="591.4,346.4 597.0,344.0 632.7,365.7 625.7,368.7" fill="#a7b8cc"/>
<line x1="594.2" y1="345.2" x2="629.2" y2="367.2" stroke="#c2cddb" stroke-width="0.6"/>
<line x1="597.1" y1="350.1" x2="603.0" y2="347.6" stroke="#c0cedd" stroke-width="0.5"/>
<line x1="602.8" y1="353.8" x2="608.9" y2="351.2" stroke="#c0cedd" stroke-width="0.5"/>
<line x1="608.5" y1="357.5" x2="614.8" y2="354.8" stroke="#c0cedd" stroke-width="0.5"/>
<line x1="614.3" y1="361.3" x2="620.8" y2="358.5" stroke="#c0cedd" stroke-width="0.5"/>
<line x1="620.0" y1="365.0" x2="626.8" y2="362.1" stroke="#c0cedd" stroke-width="0.5"/>
<polygon points="637.9,367.4 644.9,364.4 646.9,366.0 639.9,369.0" fill="#e4e6ea"/>
<polygon points="601.1,345.6 606.7,343.2 644.9,364.4 637.9,367.4" fill="#a7b8cc"/>
<line x1="603.9" y1="344.4" x2="641.4" y2="365.9" stroke="#c2cddb" stroke-width="0.6"/>
<line x1="607.2" y1="349.2" x2="613.1" y2="346.7" stroke="#c0cedd" stroke-width="0.5"/>
<line x1="613.4" y1="352.9" x2="619.4" y2="350.3" stroke="#c0cedd" stroke-width="0.5"/>
<line x1="619.5" y1="356.5" x2="625.8" y2="353.8" stroke="#c0cedd" stroke-width="0.5"/>
<line x1="625.6" y1="360.1" x2="632.2" y2="357.3" stroke="#c0cedd" stroke-width="0.5"/>
<line x1="631.8" y1="363.8" x2="638.5" y2="360.9" stroke="#c0cedd" stroke-width="0.5"/>
<polygon points="565.2,417.4 572.2,414.4 574.2,416.0 567.2,419.0" fill="#e4e6ea"/>
<polygon points="543.4,392.6 549.0,390.2 572.2,414.4 565.2,417.4" fill="#a7b8cc"/>
<line x1="546.2" y1="391.4" x2="568.7" y2="415.9" stroke="#c2cddb" stroke-width="0.6"/>
<line x1="547.0" y1="396.7" x2="552.9" y2="394.2" stroke="#c0cedd" stroke-width="0.5"/>
<line x1="550.7" y1="400.9" x2="556.7" y2="398.3" stroke="#c0cedd" stroke-width="0.5"/>
<line x1="554.3" y1="405.0" x2="560.6" y2="402.3" stroke="#c0cedd" stroke-width="0.5"/>
<line x1="557.9" y1="409.1" x2="564.5" y2="406.3" stroke="#c0cedd" stroke-width="0.5"/>
<line x1="561.6" y1="413.3" x2="568.3" y2="410.4" stroke="#c0cedd" stroke-width="0.5"/>
<polygon points="577.4,416.1 584.4,413.1 586.4,414.7 579.4,417.7" fill="#e4e6ea"/>
<polygon points="553.1,391.8 558.7,389.4 584.4,413.1 577.4,416.1" fill="#a7b8cc"/>
<line x1="555.9" y1="390.6" x2="580.9" y2="414.6" stroke="#c2cddb" stroke-width="0.6"/>
<line x1="557.1" y1="395.9" x2="563.0" y2="393.4" stroke="#c0cedd" stroke-width="0.5"/>
<line x1="561.2" y1="399.9" x2="567.3" y2="397.3" stroke="#c0cedd" stroke-width="0.5"/>
<line x1="565.2" y1="403.9" x2="571.5" y2="401.2" stroke="#c0cedd" stroke-width="0.5"/>
<line x1="569.3" y1="408.0" x2="575.8" y2="405.2" stroke="#c0cedd" stroke-width="0.5"/>
<line x1="573.4" y1="412.1" x2="580.1" y2="409.2" stroke="#c0cedd" stroke-width="0.5"/>
<polygon points="589.6,414.8 596.6,411.8 598.6,413.4 591.6,416.4" fill="#e4e6ea"/>
<polygon points="562.8,391.0 568.4,388.6 596.6,411.8 589.6,414.8" fill="#a7b8cc"/>
<line x1="565.6" y1="389.8" x2="593.1" y2="413.3" stroke="#c2cddb" stroke-width="0.6"/>
<line x1="567.3" y1="395.0" x2="573.1" y2="392.5" stroke="#c0cedd" stroke-width="0.5"/>
<line x1="571.7" y1="398.9" x2="577.8" y2="396.3" stroke="#c0cedd" stroke-width="0.5"/>
<line x1="576.2" y1="402.9" x2="582.5" y2="400.2" stroke="#c0cedd" stroke-width="0.5"/>
<line x1="580.7" y1="406.9" x2="587.2" y2="404.1" stroke="#c0cedd" stroke-width="0.5"/>
<line x1="585.1" y1="410.8" x2="591.9" y2="407.9" stroke="#c0cedd" stroke-width="0.5"/>
<polygon points="601.8,413.5 608.8,410.5 610.8,412.1 603.8,415.1" fill="#e4e6ea"/>
<polygon points="572.5,390.2 578.1,387.8 608.8,410.5 601.8,413.5" fill="#a7b8cc"/>
<line x1="575.3" y1="389.0" x2="605.3" y2="412.0" stroke="#c2cddb" stroke-width="0.6"/>
<line x1="577.4" y1="394.1" x2="583.2" y2="391.6" stroke="#c0cedd" stroke-width="0.5"/>
<line x1="582.3" y1="398.0" x2="588.3" y2="395.4" stroke="#c0cedd" stroke-width="0.5"/>
<line x1="587.1" y1="401.9" x2="593.4" y2="399.2" stroke="#c0cedd" stroke-width="0.5"/>
<line x1="592.0" y1="405.7" x2="598.6" y2="402.9" stroke="#c0cedd" stroke-width="0.5"/>
<line x1="596.9" y1="409.6" x2="603.7" y2="406.7" stroke="#c0cedd" stroke-width="0.5"/>
<polygon points="614.0,412.2 621.0,409.2 623.0,410.8 616.0,413.8" fill="#e4e6ea"/>
<polygon points="582.2,389.4 587.8,387.0 621.0,409.2 614.0,412.2" fill="#a7b8cc"/>
<line x1="585.0" y1="388.2" x2="617.5" y2="410.7" stroke="#c2cddb" stroke-width="0.6"/>
<line x1="587.5" y1="393.2" x2="593.3" y2="390.7" stroke="#c0cedd" stroke-width="0.5"/>
<line x1="592.8" y1="397.0" x2="598.9" y2="394.4" stroke="#c0cedd" stroke-width="0.5"/>
<line x1="598.1" y1="400.8" x2="604.4" y2="398.1" stroke="#c0cedd" stroke-width="0.5"/>
<line x1="603.4" y1="404.6" x2="609.9" y2="401.8" stroke="#c0cedd" stroke-width="0.5"/>
<line x1="608.7" y1="408.4" x2="615.5" y2="405.5" stroke="#c0cedd" stroke-width="0.5"/>
<polygon points="626.2,410.9 633.2,407.9 635.2,409.5 628.2,412.5" fill="#e4e6ea"/>
<polygon points="591.9,388.6 597.5,386.2 633.2,407.9 626.2,410.9" fill="#a7b8cc"/>
<line x1="594.7" y1="387.4" x2="629.7" y2="409.4" stroke="#c2cddb" stroke-width="0.6"/>
<line x1="597.6" y1="392.3" x2="603.5" y2="389.8" stroke="#c0cedd" stroke-width="0.5"/>
<line x1="603.3" y1="396.0" x2="609.4" y2="393.4" stroke="#c0cedd" stroke-width="0.5"/>
<line x1="609.0" y1="399.8" x2="615.3" y2="397.1" stroke="#c0cedd" stroke-width="0.5"/>
<line x1="614.8" y1="403.5" x2="621.3" y2="400.7" stroke="#c0cedd" stroke-width="0.5"/>
<line x1="620.5" y1="407.2" x2="627.2" y2="404.3" stroke="#c0cedd" stroke-width="0.5"/>
<polygon points="638.4,409.6 645.4,406.6 647.4,408.2 640.4,411.2" fill="#e4e6ea"/>
<polygon points="601.6,387.8 607.2,385.4 645.4,406.6 638.4,409.6" fill="#a7b8cc"/>
<line x1="604.4" y1="386.6" x2="641.9" y2="408.1" stroke="#c2cddb" stroke-width="0.6"/>
<line x1="607.7" y1="391.4" x2="613.6" y2="388.9" stroke="#c0cedd" stroke-width="0.5"/>
<line x1="613.9" y1="395.1" x2="619.9" y2="392.5" stroke="#c0cedd" stroke-width="0.5"/>
<line x1="620.0" y1="398.7" x2="626.3" y2="396.0" stroke="#c0cedd" stroke-width="0.5"/>
<line x1="626.1" y1="402.3" x2="632.7" y2="399.5" stroke="#c0cedd" stroke-width="0.5"/>
<line x1="632.3" y1="406.0" x2="639.0" y2="403.1" stroke="#c0cedd" stroke-width="0.5"/>
<polygon points="565.2,482.8 572.2,479.8 574.2,481.4 567.2,484.4" fill="#e4e6ea"/>
<polygon points="543.4,458.0 549.0,455.6 572.2,479.8 565.2,482.8" fill="#a7b8cc"/>
<line x1="546.2" y1="456.8" x2="568.7" y2="481.3" stroke="#c2cddb" stroke-width="0.6"/>
<line x1="547.0" y1="462.1" x2="552.9" y2="459.6" stroke="#c0cedd" stroke-width="0.5"/>
<line x1="550.7" y1="466.3" x2="556.7" y2="463.7" stroke="#c0cedd" stroke-width="0.5"/>
<line x1="554.3" y1="470.4" x2="560.6" y2="467.7" stroke="#c0cedd" stroke-width="0.5"/>
<line x1="557.9" y1="474.5" x2="564.5" y2="471.7" stroke="#c0cedd" stroke-width="0.5"/>
<line x1="561.6" y1="478.7" x2="568.3" y2="475.8" stroke="#c0cedd" stroke-width="0.5"/>
<polygon points="577.4,481.5 584.4,478.5 586.4,480.1 579.4,483.1" fill="#e4e6ea"/>
<polygon points="553.1,457.2 558.7,454.8 584.4,478.5 577.4,481.5" fill="#a7b8cc"/>
<line x1="555.9" y1="456.0" x2="580.9" y2="480.0" stroke="#c2cddb" stroke-width="0.6"/>
<line x1="557.1" y1="461.2" x2="563.0" y2="458.8" stroke="#c0cedd" stroke-width="0.5"/>
<line x1="561.2" y1="465.3" x2="567.3" y2="462.7" stroke="#c0cedd" stroke-width="0.5"/>
<line x1="565.2" y1="469.3" x2="571.5" y2="466.6" stroke="#c0cedd" stroke-width="0.5"/>
<line x1="569.3" y1="473.4" x2="575.8" y2="470.6" stroke="#c0cedd" stroke-width="0.5"/>
<line x1="573.4" y1="477.4" x2="580.1" y2="474.6" stroke="#c0cedd" stroke-width="0.5"/>
<polygon points="589.6,480.2 596.6,477.2 598.6,478.8 591.6,481.8" fill="#e4e6ea"/>
<polygon points="562.8,456.4 568.4,454.0 596.6,477.2 589.6,480.2" fill="#a7b8cc"/>
<line x1="565.6" y1="455.2" x2="593.1" y2="478.7" stroke="#c2cddb" stroke-width="0.6"/>
<line x1="567.3" y1="460.4" x2="573.1" y2="457.9" stroke="#c0cedd" stroke-width="0.5"/>
<line x1="571.7" y1="464.3" x2="577.8" y2="461.7" stroke="#c0cedd" stroke-width="0.5"/>
<line x1="576.2" y1="468.3" x2="582.5" y2="465.6" stroke="#c0cedd" stroke-width="0.5"/>
<line x1="580.7" y1="472.3" x2="587.2" y2="469.5" stroke="#c0cedd" stroke-width="0.5"/>
<line x1="585.1" y1="476.2" x2="591.9" y2="473.3" stroke="#c0cedd" stroke-width="0.5"/>
<polygon points="601.8,478.9 608.8,475.9 610.8,477.5 603.8,480.5" fill="#e4e6ea"/>
<polygon points="572.5,455.6 578.1,453.2 608.8,475.9 601.8,478.9" fill="#a7b8cc"/>
<line x1="575.3" y1="454.4" x2="605.3" y2="477.4" stroke="#c2cddb" stroke-width="0.6"/>
<line x1="577.4" y1="459.5" x2="583.2" y2="457.0" stroke="#c0cedd" stroke-width="0.5"/>
<line x1="582.3" y1="463.4" x2="588.3" y2="460.8" stroke="#c0cedd" stroke-width="0.5"/>
<line x1="587.1" y1="467.2" x2="593.4" y2="464.6" stroke="#c0cedd" stroke-width="0.5"/>
<line x1="592.0" y1="471.1" x2="598.6" y2="468.3" stroke="#c0cedd" stroke-width="0.5"/>
<line x1="596.9" y1="475.0" x2="603.7" y2="472.1" stroke="#c0cedd" stroke-width="0.5"/>
<polygon points="614.0,477.6 621.0,474.6 623.0,476.2 616.0,479.2" fill="#e4e6ea"/>
<polygon points="582.2,454.8 587.8,452.4 621.0,474.6 614.0,477.6" fill="#a7b8cc"/>
<line x1="585.0" y1="453.6" x2="617.5" y2="476.1" stroke="#c2cddb" stroke-width="0.6"/>
<line x1="587.5" y1="458.6" x2="593.3" y2="456.1" stroke="#c0cedd" stroke-width="0.5"/>
<line x1="592.8" y1="462.4" x2="598.9" y2="459.8" stroke="#c0cedd" stroke-width="0.5"/>
<line x1="598.1" y1="466.2" x2="604.4" y2="463.5" stroke="#c0cedd" stroke-width="0.5"/>
<line x1="603.4" y1="470.0" x2="609.9" y2="467.2" stroke="#c0cedd" stroke-width="0.5"/>
<line x1="608.7" y1="473.8" x2="615.5" y2="470.9" stroke="#c0cedd" stroke-width="0.5"/>
<polygon points="626.2,476.3 633.2,473.3 635.2,474.9 628.2,477.9" fill="#e4e6ea"/>
<polygon points="591.9,454.0 597.5,451.6 633.2,473.3 626.2,476.3" fill="#a7b8cc"/>
<line x1="594.7" y1="452.8" x2="629.7" y2="474.8" stroke="#c2cddb" stroke-width="0.6"/>
<line x1="597.6" y1="457.7" x2="603.5" y2="455.2" stroke="#c0cedd" stroke-width="0.5"/>
<line x1="603.3" y1="461.4" x2="609.4" y2="458.8" stroke="#c0cedd" stroke-width="0.5"/>
<line x1="609.0" y1="465.1" x2="615.3" y2="462.4" stroke="#c0cedd" stroke-width="0.5"/>
<line x1="614.8" y1="468.9" x2="621.3" y2="466.1" stroke="#c0cedd" stroke-width="0.5"/>
<line x1="620.5" y1="472.6" x2="627.2" y2="469.7" stroke="#c0cedd" stroke-width="0.5"/>
<polygon points="638.4,475.0 645.4,472.0 647.4,473.6 640.4,476.6" fill="#e4e6ea"/>
<polygon points="601.6,453.2 607.2,450.8 645.4,472.0 638.4,475.0" fill="#a7b8cc"/>
<line x1="604.4" y1="452.0" x2="641.9" y2="473.5" stroke="#c2cddb" stroke-width="0.6"/>
<line x1="607.7" y1="456.8" x2="613.6" y2="454.3" stroke="#c0cedd" stroke-width="0.5"/>
<line x1="613.9" y1="460.5" x2="619.9" y2="457.9" stroke="#c0cedd" stroke-width="0.5"/>
<line x1="620.0" y1="464.1" x2="626.3" y2="461.4" stroke="#c0cedd" stroke-width="0.5"/>
<line x1="626.1" y1="467.7" x2="632.7" y2="464.9" stroke="#c0cedd" stroke-width="0.5"/>
<line x1="632.3" y1="471.4" x2="639.0" y2="468.5" stroke="#c0cedd" stroke-width="0.5"/>
<text x="242.5" y="62.7" textLength="27.5" lengthAdjust="spacingAndGlyphs">Portal</text>
<text x="212.0" y="191.2" textLength="82.3" lengthAdjust="spacingAndGlyphs">Cloud connection</text>
<text x="417.8" y="111.3" textLength="36.0" lengthAdjust="spacingAndGlyphs">SCADA</text>
<text x="620.6" y="46.7" textLength="47.6" lengthAdjust="spacingAndGlyphs">Substation</text>
<text x="568.6" y="182.7" textLength="82.4" lengthAdjust="spacingAndGlyphs">Feed-in controller</text>
<text x="227.3" y="219.1" textLength="53.6" lengthAdjust="spacingAndGlyphs">Data logger</text>
<text x="408.4" y="219.1" textLength="53.1" lengthAdjust="spacingAndGlyphs">Data logger</text>
<text x="589.3" y="219.1" textLength="52.7" lengthAdjust="spacingAndGlyphs">Data logger</text>
<text x="342.0" y="267.4" textLength="39.6" lengthAdjust="spacingAndGlyphs">Weather</text>
<text x="342.0" y="281.4" textLength="31.0" lengthAdjust="spacingAndGlyphs">station</text>
<text x="466.8" y="278.7" textLength="71.1" lengthAdjust="spacingAndGlyphs">Inverter station</text>
<text x="389.0" y="502.2" textLength="103.0" lengthAdjust="spacingAndGlyphs">String combiner boxes</text>
<text x="637.2" y="458.1" textLength="35.7" lengthAdjust="spacingAndGlyphs">PV park</text>
<text x="86.9" y="453.2" textLength="39.9" lengthAdjust="spacingAndGlyphs">Ethernet</text>
<text x="86.9" y="473.6" textLength="49.3" lengthAdjust="spacingAndGlyphs">Solar cable</text>
<text x="86.9" y="495.7" textLength="37.1" lengthAdjust="spacingAndGlyphs">Fieldbus</text>
</svg></body></html>
